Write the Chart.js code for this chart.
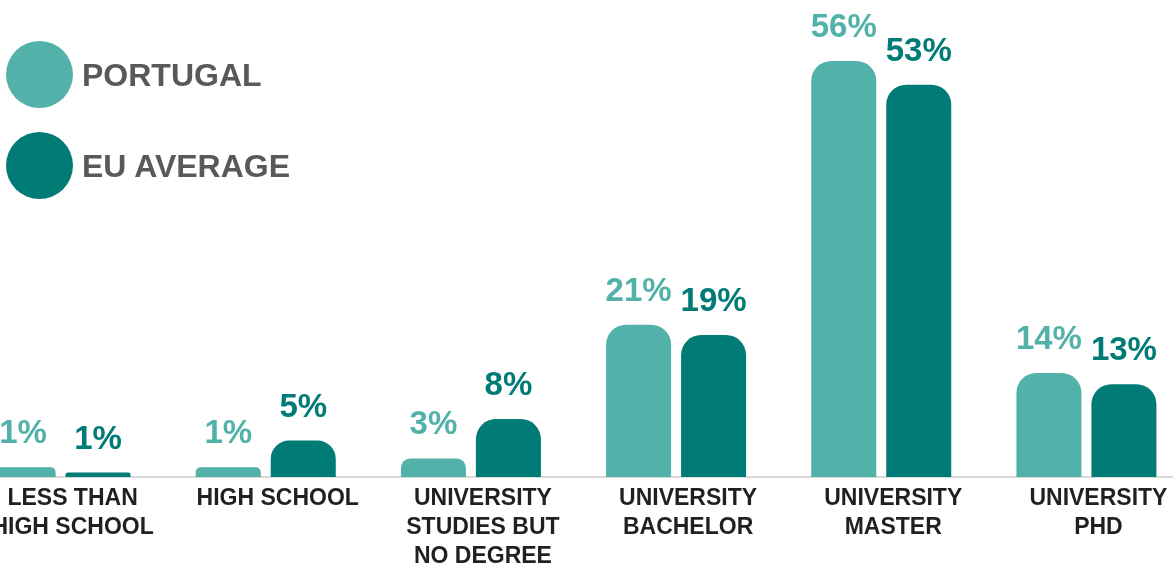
<!DOCTYPE html>
<html>
<head>
<meta charset="utf-8">
<script src="https://cdn.jsdelivr.net/npm/chart.js@4.4.1/dist/chart.umd.min.js"></script>
<style>
    html, body { margin: 0; padding: 0; background: #fff; overflow: hidden; }
    body { width: 1173px; height: 566px; position: relative; font-family: "Liberation Sans", Arial, sans-serif; }
    #chart-box { position: absolute; left: -42px; top: 0; width: 1231px; height: 566px; }
    #legend { position: absolute; left: 6px; top: 41px; }
    .legend-item { display: flex; align-items: center; height: 67px; margin-bottom: 24px; }
    .legend-dot { width: 67px; height: 67px; border-radius: 50%; margin-right: 9px; }
    .legend-text { font-weight: bold; font-size: 32px; line-height: 32px; color: #595959; }
</style>
</head>
<body>
<div id="chart-box"><canvas id="eduChart"></canvas></div>
<div id="legend"></div>
<script>
const categories = [
    ['LESS THAN', 'HIGH SCHOOL'],
    ['HIGH SCHOOL'],
    ['UNIVERSITY', 'STUDIES BUT', 'NO DEGREE'],
    ['UNIVERSITY', 'BACHELOR'],
    ['UNIVERSITY', 'MASTER'],
    ['UNIVERSITY', 'PHD']
];
const portugalValues = [1.3, 1.3, 2.5, 20.5, 56, 14];
const euValues = [0.6, 4.9, 7.8, 19.1, 52.8, 12.5];
const portugalLabels = ['1%', '1%', '3%', '21%', '56%', '14%'];
const euLabels = ['1%', '5%', '8%', '19%', '53%', '13%'];

const portugalColor = '#52b2aa';
const euColor = '#007b75';

// Percent labels above each bar
const barLabels = {
    id: 'barLabels',
    afterDatasetsDraw(chart) {
        const ctx = chart.ctx;
        ctx.save();
        ctx.font = 'bold 33px "Liberation Sans", Arial, sans-serif';
        ctx.textAlign = 'center';
        ctx.textBaseline = 'alphabetic';
        chart.data.datasets.forEach((ds, i) => {
            const meta = chart.getDatasetMeta(i);
            ctx.fillStyle = ds.backgroundColor;
            meta.data.forEach((bar, j) => {
                ctx.fillText(ds.valueLabels[j], bar.x, bar.y - 24);
            });
        });
        ctx.restore();
    }
};

const ctx = document.getElementById('eduChart').getContext('2d');
const eduChart = new Chart(ctx, {
    type: 'bar',
    data: {
        labels: categories,
        datasets: [{
            label: 'PORTUGAL',
            data: portugalValues,
            valueLabels: portugalLabels,
            backgroundColor: portugalColor,
            borderRadius: 20,
            borderSkipped: 'bottom',
            categoryPercentage: 0.731,
            barPercentage: 0.867
        }, {
            label: 'EU AVERAGE',
            data: euValues,
            valueLabels: euLabels,
            backgroundColor: euColor,
            borderRadius: 20,
            borderSkipped: 'bottom',
            categoryPercentage: 0.731,
            barPercentage: 0.867
        }]
    },
    options: {
        responsive: true,
        maintainAspectRatio: false,
        animation: false,
        layout: { padding: 0 },
        plugins: {
            legend: { display: false },
            tooltip: { enabled: false }
        },
        scales: {
            x: {
                grid: { display: false, drawTicks: false },
                border: { display: true, color: '#d9d9d9', width: 2 },
                ticks: {
                    color: '#231f20',
                    padding: 7,
                    labelOffset: 12,
                    maxRotation: 0,
                    autoSkip: false,
                    font: { family: '"Liberation Sans", Arial, sans-serif', size: 23, weight: 'bold', lineHeight: 1.26 }
                },
                afterFit: function(scale) { scale.height = 89; }
            },
            y: {
                display: false,
                min: 0,
                max: 64.2
            }
        }
    },
    plugins: [barLabels]
});

// Build legend from the datasets
const legend = document.getElementById('legend');
eduChart.data.datasets.forEach(ds => {
    const item = document.createElement('div');
    item.className = 'legend-item';
    const dot = document.createElement('div');
    dot.className = 'legend-dot';
    dot.style.background = ds.backgroundColor;
    const text = document.createElement('div');
    text.className = 'legend-text';
    text.textContent = ds.label;
    item.appendChild(dot);
    item.appendChild(text);
    legend.appendChild(item);
});
</script>
</body>
</html>
